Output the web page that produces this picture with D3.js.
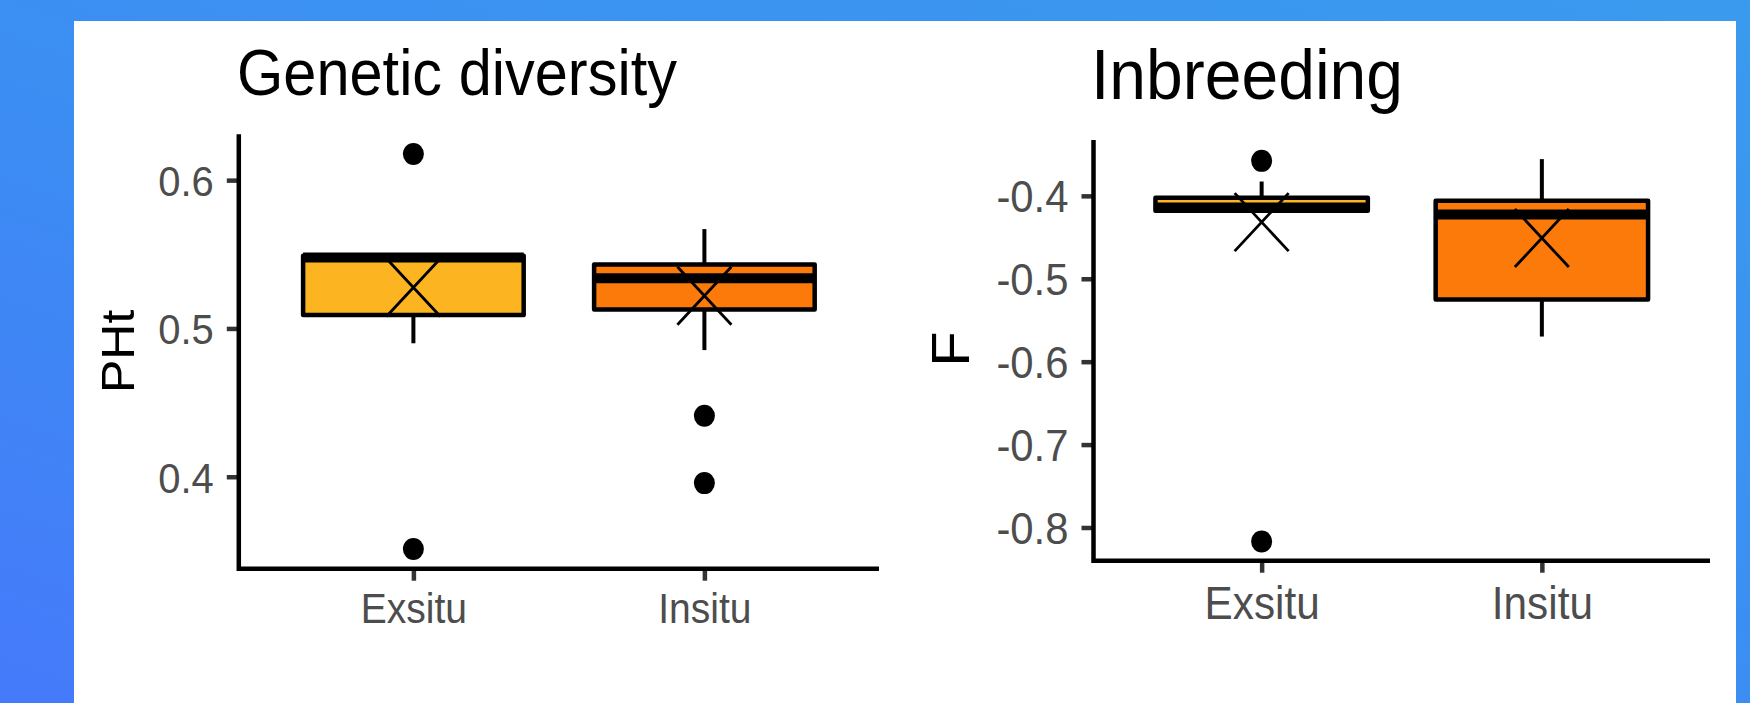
<!DOCTYPE html>
<html><head><meta charset="utf-8">
<script src="https://cdn.jsdelivr.net/npm/d3@7"></script>
<style>
html,body{margin:0;padding:0;width:1750px;height:703px;overflow:hidden;}
body{background:linear-gradient(200deg,#3a9bee 0%,#3c8df3 55%,#457afa 100%);}
svg{display:block}
</style></head><body>
<svg id="chart" width="1750" height="703"></svg>
<script>
// ---------- data ----------
const categories = ["Exsitu", "Insitu"];

// Genetic diversity (PHt)
const phtLow   = [0.490, 0.4854];
const phtQ1    = [0.509, 0.5128];
const phtMed   = [0.5479, 0.5339];
const phtQ3    = [0.549, 0.5432];
const phtHigh  = [0.550, 0.567];
const phtMean  = [0.5276, 0.522];
const phtOut   = [[0.6176, 0.3513], [0.4411, 0.3957]];
const phtTicks = [0.4, 0.5, 0.6];

// Inbreeding (F)
const fLow   = [-0.419, -0.5697];
const fQ1    = [-0.4181, -0.525];
const fMed   = [-0.4142, -0.4226];
const fQ3    = [-0.4024, -0.406];
const fHigh  = [-0.3827, -0.3557];
const fMean  = [-0.4317, -0.4509];
const fOut   = [[-0.3578, -0.817], []];
const fTicks = [-0.8, -0.7, -0.6, -0.5, -0.4];

const fillColors = ["#fcb520", "#fb7a0a"];
const FONT = "'Liberation Sans', Arial, Helvetica, sans-serif";
const SX = 0.93; // horizontal compression of the original image
const fmt = d => d.toFixed(1);

const svg = d3.select("#chart");
svg.append("rect").attr("x", 74).attr("y", 21).attr("width", 1662).attr("height", 690).attr("fill", "#ffffff");

function buildRows(low, q1, med, q3, high, mean, out) {
  return categories.map((c, i) => ({cat: c, low: low[i], q1: q1[i], med: med[i], q3: q3[i], high: high[i], mean: mean[i], out: out[i], fill: fillColors[i]}));
}

function drawPanel(cfg) {
  const rows = cfg.rows;
  const allVals = rows.flatMap(r => [r.low, r.q1, r.med, r.q3, r.high, r.mean, ...r.out]);
  const [mn, mx] = d3.extent(allVals);
  const pad = (mx - mn) * 0.05;
  const y = d3.scaleLinear().domain([mn - pad, mx + pad]).range(cfg.yRange);
  const x = d3.scalePoint().domain(categories).range(cfg.xRange).padding(0.6);
  const step = x.step();
  const bw = step * 0.758;
  const g = svg.append("g");

  // axes: ticks
  const yAxis = d3.axisLeft(y).tickValues(cfg.ticks).tickSize(12).tickSizeOuter(0).tickFormat(fmt);
  const ya = g.append("g").attr("transform", `translate(${cfg.xRange[0]},0)`).call(yAxis);
  ya.select(".domain").remove();
  ya.selectAll(".tick line").attr("stroke", "#333").attr("stroke-width", 4.5);
  ya.selectAll(".tick text").remove();
  ya.selectAll(".tick").each(function(d) {
    d3.select(this).append("text")
      .attr("transform", `translate(${-25},0) scale(${SX},1)`)
      .attr("text-anchor", "end").attr("dy", "0.355em")
      .attr("font-family", FONT).attr("font-size", cfg.tickFont).attr("fill", "#4d4d4d")
      .text(fmt(d));
  });

  const xAxis = d3.axisBottom(x).tickSize(12).tickSizeOuter(0);
  const xa = g.append("g").attr("transform", `translate(0,${cfg.yRange[0]})`).call(xAxis);
  xa.select(".domain").remove();
  xa.selectAll(".tick line").attr("stroke", "#333").attr("stroke-width", 4.5);
  xa.selectAll(".tick text").remove();
  xa.selectAll(".tick").each(function(d) {
    d3.select(this).append("text")
      .attr("transform", `translate(0,${cfg.xLabBase - cfg.yRange[0]}) scale(${SX},1)`)
      .attr("text-anchor", "middle")
      .attr("font-family", FONT).attr("font-size", cfg.xFont).attr("fill", "#4d4d4d")
      .text(d);
  });

  // axis lines
  g.append("path")
    .attr("d", `M${cfg.xRange[0]},${cfg.yRange[1]}V${cfg.yRange[0]}H${cfg.xRange[1]}`)
    .attr("fill", "none").attr("stroke", "#000").attr("stroke-width", 4.5).attr("stroke-linejoin", "miter");

  // boxes
  const b = g.selectAll(".box").data(rows).enter().append("g").attr("class", "box");
  b.append("line").attr("x1", d => x(d.cat)).attr("x2", d => x(d.cat))
    .attr("y1", d => y(d.q3)).attr("y2", d => y(d.high)).attr("stroke", "#000").attr("stroke-width", 4);
  b.append("line").attr("x1", d => x(d.cat)).attr("x2", d => x(d.cat))
    .attr("y1", d => y(d.q1)).attr("y2", d => y(d.low)).attr("stroke", "#000").attr("stroke-width", 4);
  b.append("rect").attr("x", d => x(d.cat) - bw / 2).attr("width", bw)
    .attr("y", d => y(d.q3)).attr("height", d => y(d.q1) - y(d.q3))
    .attr("fill", d => d.fill).attr("stroke", "#000").attr("stroke-width", 4.5).attr("stroke-linejoin", "round");
  b.append("line").attr("x1", d => x(d.cat) - bw / 2).attr("x2", d => x(d.cat) + bw / 2)
    .attr("y1", d => y(d.med)).attr("y2", d => y(d.med)).attr("stroke", "#000").attr("stroke-width", 10);
  // outliers
  b.selectAll("ellipse").data(d => d.out.map(v => ({cat: d.cat, v}))).enter().append("ellipse")
    .attr("cx", d => x(d.cat)).attr("cy", d => y(d.v)).attr("rx", 10.5).attr("ry", 11).attr("fill", "#000");
  // mean X
  const hw = 27, hh = 29;
  b.append("path")
    .attr("d", d => `M${x(d.cat) - hw},${y(d.mean) - hh}L${x(d.cat) + hw},${y(d.mean) + hh}M${x(d.cat) + hw},${y(d.mean) - hh}L${x(d.cat) - hw},${y(d.mean) + hh}`)
    .attr("stroke", "#000").attr("stroke-width", 2.8).attr("fill", "none");

  // title
  svg.append("text").attr("transform", `translate(${cfg.titleX},${cfg.titleY}) scale(${SX},1)`)
    .attr("font-family", FONT).attr("font-size", cfg.titleFont).attr("fill", "#000").text(cfg.title);
  // y label
  svg.append("text").attr("transform", `translate(${cfg.ylabX},${cfg.ylabY}) scale(${SX},1) rotate(-90)`)
    .attr("text-anchor", "middle")
    .attr("font-family", FONT).attr("font-size", cfg.ylabFont).attr("fill", "#000").text(cfg.ylab);
}

drawPanel({
  rows: buildRows(phtLow, phtQ1, phtMed, phtQ3, phtHigh, phtMean, phtOut),
  ticks: phtTicks, xRange: [238.8, 879], yRange: [568.7, 134.3],
  tickFont: 43, xFont: 42, xLabBase: 623.3,
  title: "Genetic diversity", titleX: 237, titleY: 95, titleFont: 64,
  ylab: "PHt", ylabX: 134.3, ylabY: 351.3, ylabFont: 50
});
drawPanel({
  rows: buildRows(fLow, fQ1, fMed, fQ3, fHigh, fMean, fOut),
  ticks: fTicks, xRange: [1093.5, 1710], yRange: [560.7, 140],
  tickFont: 45, xFont: 45.5, xLabBase: 619.3,
  title: "Inbreeding", titleX: 1091, titleY: 99, titleFont: 71,
  ylab: "F", ylabX: 969, ylabY: 349, ylabFont: 58
});
</script>
</body></html>
